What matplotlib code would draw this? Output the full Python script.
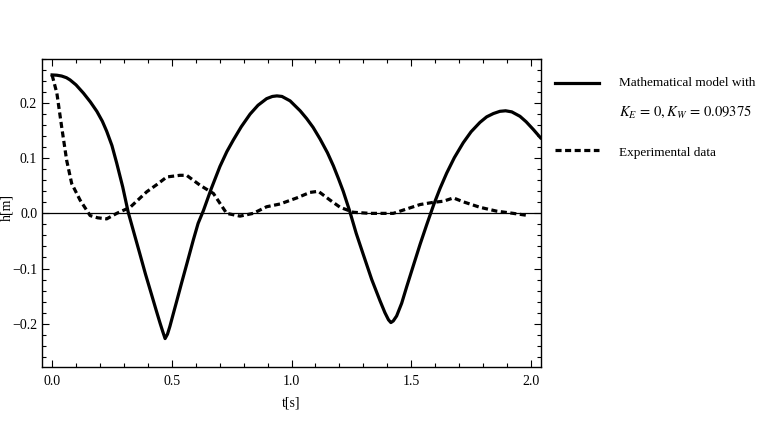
import numpy as np
import matplotlib
matplotlib.use('Agg')
import matplotlib.pyplot as plt
from matplotlib.ticker import MultipleLocator, FuncFormatter
from matplotlib.lines import Line2D

# model curve
t_model = [0.0, 0.02, 0.04, 0.06, 0.075, 0.10, 0.131, 0.16, 0.187, 0.21, 0.228, 0.25, 0.270, 0.295, 0.318,
           0.345, 0.367, 0.39, 0.416, 0.435, 0.451, 0.462, 0.472, 0.482, 0.492, 0.505, 0.52, 0.541,
           0.565, 0.590, 0.61, 0.632, 0.665, 0.701, 0.73, 0.757, 0.79, 0.827, 0.86, 0.896, 0.92,
           0.939, 0.96, 0.994, 1.036, 1.063, 1.09, 1.119, 1.15, 1.175, 1.196, 1.216, 1.243,
           1.27, 1.300, 1.335, 1.37, 1.39, 1.405, 1.415, 1.425, 1.439, 1.46, 1.481, 1.51, 1.537,
           1.565, 1.594, 1.62, 1.648, 1.68, 1.717, 1.75, 1.787, 1.815, 1.843, 1.87, 1.894,
           1.92, 1.954, 1.98, 2.01, 2.04]
h_model = [0.251, 0.2505, 0.249, 0.246, 0.242, 0.233, 0.218, 0.202, 0.185, 0.167, 0.149, 0.123, 0.091, 0.048, 0.002,
           -0.040, -0.074, -0.110, -0.148, -0.176, -0.199, -0.214, -0.227, -0.219, -0.205, -0.184,
           -0.160, -0.126, -0.088, -0.048, -0.018, 0.005, 0.045, 0.085, 0.112, 0.133, 0.157, 0.180,
           0.196, 0.208, 0.212, 0.213, 0.212, 0.204, 0.186, 0.172, 0.156, 0.135, 0.110, 0.086,
           0.063, 0.040, 0.004, -0.036, -0.075, -0.120, -0.159, -0.180, -0.193, -0.198, -0.195,
           -0.186, -0.163, -0.133, -0.093, -0.056, -0.020, 0.016, 0.045, 0.073, 0.101, 0.128,
           0.148, 0.165, 0.175, 0.181, 0.185, 0.186, 0.184, 0.176, 0.166, 0.152, 0.137]

# experimental data
t_exp = [0.0, 0.02, 0.04, 0.061, 0.082, 0.117, 0.159, 0.19, 0.228, 0.27, 0.326, 0.395, 0.44,
         0.479, 0.534, 0.562, 0.618, 0.674, 0.729, 0.785, 0.84, 0.896, 0.952, 1.022, 1.077,
         1.112, 1.161, 1.203, 1.258, 1.328, 1.425, 1.481, 1.537, 1.592, 1.634, 1.676, 1.717,
         1.787, 1.857, 1.926, 1.99]
h_exp = [0.251, 0.218, 0.157, 0.096, 0.054, 0.024, -0.004, -0.008, -0.010, 0.000, 0.011, 0.039,
         0.053, 0.066, 0.069, 0.069, 0.051, 0.036, 0.000, -0.005, 0.000, 0.012, 0.017, 0.028,
         0.038, 0.040, 0.024, 0.011, 0.002, 0.000, 0.000, 0.008, 0.016, 0.020, 0.022, 0.028,
         0.021, 0.011, 0.004, 0.000, -0.004]

plt.rcParams['font.family'] = 'Liberation Serif'
plt.rcParams['mathtext.fontset'] = 'stix'

fig = plt.figure(figsize=(7.57, 4.21), dpi=100)
ax = fig.add_axes([0.0555, 0.129, 0.6592, 0.731])

ax.axhline(0, color='black', lw=0.9, zorder=1)
ax.plot(t_model, h_model, color='black', lw=2.3, solid_joinstyle='round')
ax.plot(t_exp, h_exp, color='black', lw=2.3, linestyle=(0, (1.9, 1.1)))

ax.set_xlim(-0.042, 2.042)
ax.set_ylim(-0.278, 0.28)

ax.xaxis.set_major_locator(MultipleLocator(0.5))
ax.xaxis.set_minor_locator(MultipleLocator(0.1))
ax.yaxis.set_major_locator(MultipleLocator(0.1))
ax.yaxis.set_minor_locator(MultipleLocator(0.02))
fmt = FuncFormatter(lambda v, p: f'{v:.1f}'.replace('-', '\u2212') if abs(v) > 1e-9 else '0.0')
ax.xaxis.set_major_formatter(fmt)
ax.yaxis.set_major_formatter(fmt)

ax.tick_params(which='both', direction='in', top=True, right=True, labelsize=10, width=0.8)
ax.tick_params(which='major', length=5)
ax.tick_params(which='minor', length=3)
ax.tick_params(axis='x', pad=6)
for s in ax.spines.values():
    s.set_linewidth(1.0)

ax.set_xlabel('t[s]', fontsize=10, labelpad=6)
fig.text(0.0095, 0.506, 'h[m]', rotation=90, fontsize=10, ha='center', va='center')

# legend drawn outside on the right, in figure fractions
tf = fig.transFigure
fig.add_artist(Line2D([0.733, 0.791], [0.803, 0.803], color='black', lw=2.3, transform=tf))
fig.add_artist(Line2D([0.733, 0.791], [0.643, 0.643], color='black', lw=2.3,
                      linestyle=(0, (1.9, 1.1)), transform=tf))
fig.text(0.818, 0.803, 'Mathematical model with', fontsize=9.5, va='center')
fig.text(0.818, 0.734, r'$K_E\,=\,0, K_W\,=\,0.09375$', fontsize=10.5, va='center')
fig.text(0.818, 0.636, 'Experimental data', fontsize=9.5, va='center')

fig.savefig('out.png', dpi=100)
